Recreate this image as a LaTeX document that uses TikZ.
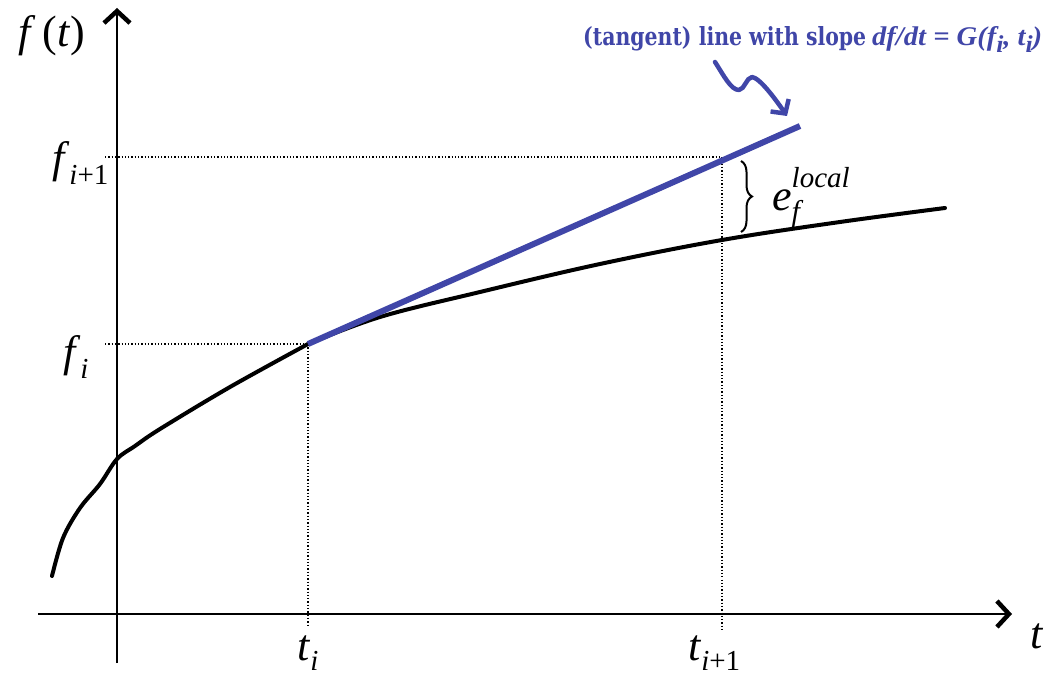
\documentclass[tikz,border=0pt]{standalone}
\usepackage{fontspec}
\setmainfont{Liberation Serif}
\newfontfamily\slabfont{DejaVu Serif}
\usetikzlibrary{arrows.meta,decorations.pathreplacing}
\definecolor{tanblue}{RGB}{64,70,168}
\newcommand\lblsize{\fontsize{44}{48}\selectfont}
\newcommand\subm[1]{\raisebox{-12pt}{\fontsize{29}{29}\selectfont #1}}
\begin{document}
\begin{tikzpicture}[x=1pt,y=-1pt,
  axis/.style={line width=1.8pt,-{Straight Barb[length=12pt,width=26pt,line width=4.5pt]}},
  guide/.style={dotted,line width=1.3pt},
  curve/.style={line width=4pt,line cap=round},
  tangent/.style={line width=6pt,tanblue},
  lbl/.style={inner sep=0pt,anchor=base west,font=\lblsize}]
\useasboundingbox (0,0) rectangle (1052,679);
% key points
\coordinate (ytop) at (117,8);
\coordinate (ybot) at (117,663);
\coordinate (xleft) at (38,614);
\coordinate (xright) at (1012,614);
\coordinate (Pi) at (308,344);
\coordinate (Tend) at (800,126);
% axes
\draw[axis] (ybot) -- (ytop);
\draw[axis] (xleft) -- (xright);
% guides
\draw[guide] (105,344) -- (Pi);
\draw[guide] (Pi) -- (308,625);
\draw[guide] (105,157) -- (722,157) -- (722,630);
% curve
\draw[curve] plot[smooth,tension=0.55] coordinates
  {(52,576) (63,538) (80,508) (100,484) (117,459) (135,446) (160,429) (230,387) (308,344)};
\draw[curve] plot[smooth,tension=0.6] coordinates
  {(308,344) (380,317) (480,292) (600,264) (722,240) (840,222) (945,208)};
% tangent line
\draw[tangent] (Pi) -- (Tend);
% brace
\draw[line width=2pt,decorate,decoration={brace,amplitude=11pt}] (741,161) -- (741,232);
\node[lbl] (e) at (772,211) {\textit{e}\rlap{\raisebox{23pt}{\fontsize{29}{29}\selectfont\textit{local}}}\raisebox{-11pt}{\fontsize{30}{30}\selectfont\textit{f}}};
% axis labels
\node[lbl] (ft) at (18,47) {\textit{f}\,(\textit{t})};
\node[lbl] (t) at (1030,648) {\textit{t}};
\node[lbl] (fi1) at (52,173) {\textit{f}\subm{\textit{i}+1}};
\node[lbl] (fi) at (63,366) {\textit{f}\subm{\textit{i}}};
\node[lbl] (ti) at (297,660) {\textit{t}\raisebox{-10pt}{\fontsize{29}{29}\selectfont\textit{i}}};
\node[lbl] (ti1) at (688,660) {\textit{t}\raisebox{-10pt}{\fontsize{29}{29}\selectfont\textit{i}+1}};
% label
\node[anchor=base west,inner sep=0pt,text=tanblue] (lab) at (583,46)
  {\resizebox{283pt}{19pt}{\slabfont\bfseries (tangent) line with slope}\hspace{6pt}%
   \resizebox{170pt}{19pt}{\bfseries\itshape df/dt = G(f\raisebox{-0.25em}{\small i}, t\raisebox{-0.25em}{\small i})}};
% squiggle arrow
\coordinate (s0) at (715,62);
\coordinate (s1) at (787,116);
\draw[tanblue,line width=4.5pt,line cap=round,line join=round,-{Straight Barb[length=10pt,width=22pt,line width=4.5pt]}]
  (s0) .. controls (724,76) and (731,90) .. (739,90)
  .. controls (745,89) and (746,78) .. (752,77)
  .. controls (760,78) and (776,100) .. (s1);
\end{tikzpicture}
\end{document}
